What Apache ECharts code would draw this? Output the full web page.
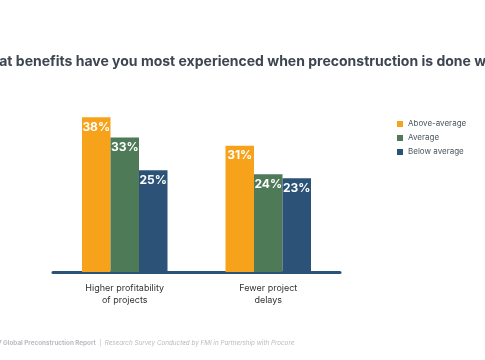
<!DOCTYPE html>
<html><head><meta charset="utf-8">
<script src="https://cdn.jsdelivr.net/npm/echarts@6/dist/echarts.min.js"></script>
<style>html,body{margin:0;padding:0;background:#fff}#c{width:485px;height:360px}</style>
</head><body><div id="c"></div>
<script>
const categories = ['Higher profitability\nof projects', 'Fewer project\ndelays'];
const seriesNames = ['Above-average', 'Average', 'Below average'];
const aboveAverage = [38, 31];
const average = [33, 24];
const belowAverage = [25, 23];
const colors = ['#F7A21B', '#4E7A57', '#2C5278'];
const titleText = 'What benefits have you most experienced when preconstruction is done well?';
const footerBold = '2017 Global Preconstruction Report';
const footerItalic = 'Research Survey Conducted by FMI in Partnership with Procore';

const chart = echarts.init(document.getElementById('c'));
const values = [aboveAverage, average, belowAverage];
chart.setOption({
  animation: false,
  backgroundColor: '#fff',
  textStyle: { fontFamily: 'Inter' },
  graphic: [
    { type: 'text', left: -24, top: 55, style: { text: titleText, font: 'bold 14px Inter', fill: '#3d4650' } },
    { type: 'text', left: -13, top: 337, style: {
      text: '{b|' + footerBold + '} {s||} {i|' + footerItalic + '}',
      rich: {
        b: { font: 'bold 6.3px Inter', fill: '#b8bcc0' },
        s: { font: '6.3px Inter', fill: '#b8bcc0' },
        i: { font: 'italic 6.3px Inter', fill: '#b8bcc0' }
      } } }
  ],
  legend: {
    orient: 'vertical', left: 392, top: 115, itemWidth: 6, itemHeight: 6, itemGap: 6,
    icon: 'rect',
    textStyle: { fontSize: 8, color: '#4a5560', fontFamily: 'Inter' },
    data: seriesNames
  },
  grid: { left: 53, right: 145, top: 109, bottom: 88, containLabel: false },
  xAxis: {
    type: 'category', data: categories,
    axisLine: { lineStyle: { color: '#2C5278', width: 3 } },
    axisTick: { show: false },
    axisLabel: { fontSize: 9, color: '#333', lineHeight: 12, margin: 10, fontFamily: 'Inter' }
  },
  yAxis: { type: 'value', min: 0, max: 40, show: false, splitLine: { show: false } },
  series: seriesNames.map((n, i) => ({
    name: n, type: 'bar', data: values[i], barWidth: 28.5, barGap: '0%',
    itemStyle: { color: colors[i] },
    label: { show: true, position: 'insideTop', formatter: '{c}%', color: '#fff', fontWeight: 'bold', fontSize: 12, fontFamily: 'Inter', distance: 4 }
  }))
});
</script></body></html>
